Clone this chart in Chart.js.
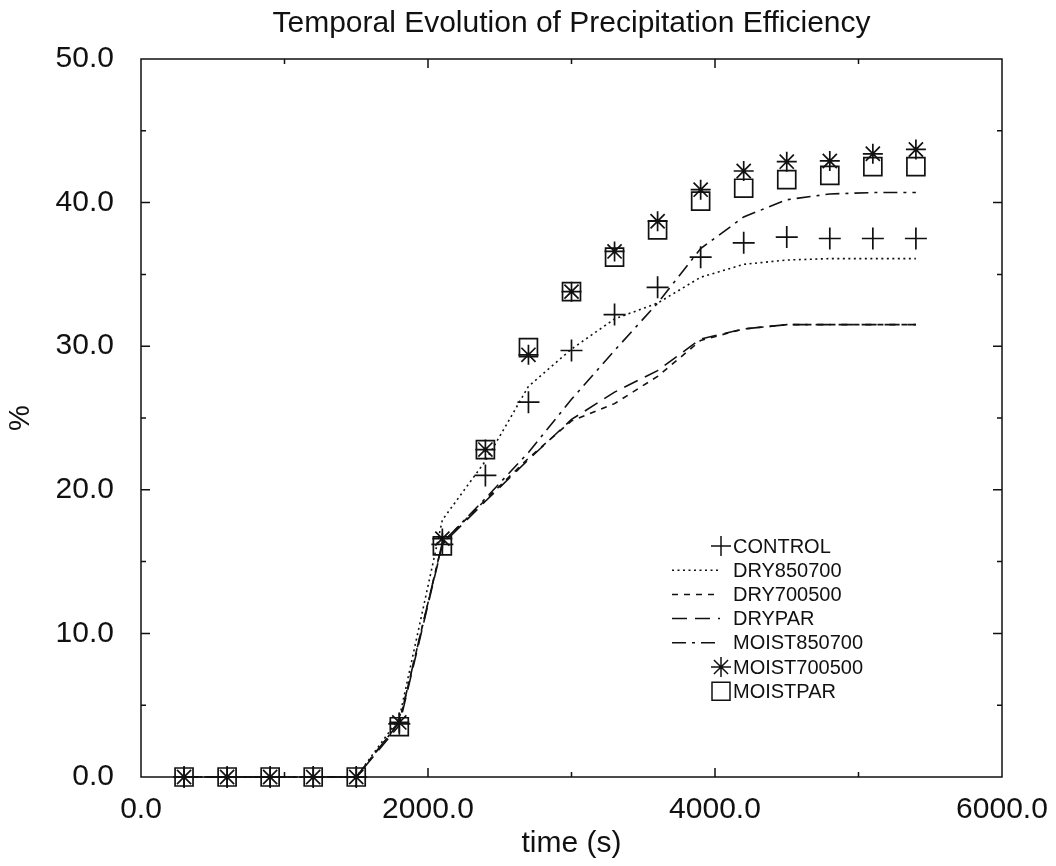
<!DOCTYPE html>
<html>
<head>
<meta charset="utf-8">
<script src="https://cdn.jsdelivr.net/npm/chart.js@4.4.1/dist/chart.umd.min.js"></script>
<style>
  html, body { margin: 0; padding: 0; background: #fff; }
  #wrap { width: 1056px; height: 866px; }
</style>
</head>
<body>
<div id="wrap"><canvas id="peChart" width="1056" height="866"></canvas></div>
<script>
// model output times (s)
const times = [300, 600, 900, 1200, 1500, 1800, 2100, 2400, 2700, 3000, 3300, 3600, 3900, 4200, 4500, 4800, 5100, 5400];

// precipitation efficiency (%) per run
const control     = [0, 0, 0, 0, 0, 3.7, 16.2, 21.0, 26.1, 29.7, 32.2, 34.1, 36.2, 37.2, 37.6, 37.5, 37.5, 37.5];
const dry850700   = [0, 0, 0, 0, 0, 4.1, 17.9, 22.0, 27.2, 29.8, 31.9, 33.0, 34.8, 35.7, 36.0, 36.1, 36.1, 36.1];
const dry700500   = [0, 0, 0, 0, 0, 3.8, 16.3, 19.3, 22.2, 24.8, 26.0, 27.9, 30.4, 31.2, 31.5, 31.5, 31.5, 31.5];
const dryPar      = [0, 0, 0, 0, 0, 3.6, 16.2, 19.2, 22.1, 24.9, 26.8, 28.3, 30.5, 31.2, 31.5, 31.5, 31.5, 31.5];
const moist850700 = [0, 0, 0, 0, 0, 3.8, 16.3, 19.4, 22.6, 26.3, 29.7, 33.0, 36.8, 39.0, 40.2, 40.6, 40.7, 40.7];
const moist700500 = [0, 0, 0, 0, 0, 3.8, 16.6, 22.8, 29.4, 33.8, 36.6, 38.7, 40.9, 42.2, 42.85, 42.9, 43.4, 43.7];
const moistPar    = [0, 0, 0, 0, 0, 3.5, 16.1, 22.8, 29.9, 33.8, 36.2, 38.1, 40.1, 41.0, 41.6, 41.9, 42.5, 42.5];

const xTicks = [0, 2000, 4000, 6000];
const yTicks = [0, 10, 20, 30, 40, 50];

const FONT = '"Liberation Sans", Arial, Helvetica, sans-serif';
const INK = '#111';

const pts = (vals) => times.map((t, i) => ({ x: t, y: vals[i] }));

function lineSet(label, vals, dash) {
  return {
    label, data: pts(vals), borderColor: INK, borderWidth: 1.6, borderDash: dash,
    pointRadius: 0, fill: false, tension: 0, clip: false
  };
}
function markSet(label, vals, style, r) {
  return {
    label, data: pts(vals), showLine: false, pointStyle: style, pointRadius: r,
    pointBorderColor: INK, pointBackgroundColor: 'rgba(0,0,0,0)', pointBorderWidth: 1.7, clip: false
  };
}

const datasets = [
  markSet('CONTROL', control, 'cross', 11),
  lineSet('DRY850700', dry850700, [2, 3.5]),
  lineSet('DRY700500', dry700500, [6, 6]),
  lineSet('DRYPAR', dryPar, [15, 8]),
  lineSet('MOIST850700', moist850700, [14, 6, 3, 6]),
  markSet('MOIST700500', moist700500, 'star', 10),
  markSet('MOISTPAR', moistPar, 'rect', 12.7)
];

// boxed frame with inward ticks on all four sides, title, legend
const frame = {
  id: 'frame',
  afterDraw(chart) {
    const { ctx, chartArea: a, scales: { x, y } } = chart;
    ctx.save();
    ctx.strokeStyle = INK;
    ctx.lineWidth = 1.5;
    ctx.setLineDash([]);
    ctx.strokeRect(a.left, a.top, a.right - a.left, a.bottom - a.top);

    for (let v = 1000; v < 6000; v += 1000) {
      const px = x.getPixelForValue(v);
      const len = v % 2000 === 0 ? 9 : 5;
      ctx.beginPath();
      ctx.moveTo(px, a.bottom); ctx.lineTo(px, a.bottom - len);
      ctx.moveTo(px, a.top); ctx.lineTo(px, a.top + len);
      ctx.stroke();
    }
    for (let v = 5; v < 50; v += 5) {
      const py = y.getPixelForValue(v);
      const len = v % 10 === 0 ? 9 : 5;
      ctx.beginPath();
      ctx.moveTo(a.left, py); ctx.lineTo(a.left + len, py);
      ctx.moveTo(a.right, py); ctx.lineTo(a.right - len, py);
      ctx.stroke();
    }

    // title
    ctx.fillStyle = INK;
    ctx.font = '30px ' + FONT;
    ctx.textAlign = 'center';
    ctx.textBaseline = 'middle';
    ctx.fillText('Temporal Evolution of Precipitation Efficiency', (a.left + a.right) / 2, 24);

    // legend
    const tx = a.left + 592, y0 = a.top + 487, step = 24.2;
    ctx.font = '20px ' + FONT;
    ctx.textAlign = 'left';
    chart.data.datasets.forEach((ds, i) => {
      const ry = y0 + i * step;
      ctx.lineWidth = 1.5;
      if (ds.showLine === false) {
        const cx = tx - 12;
        const r = ds.pointStyle === 'rect' ? 9 : 10;
        ctx.beginPath();
        if (ds.pointStyle === 'rect') {
          ctx.rect(cx - r, ry - r, 2 * r, 2 * r);
        } else {
          ctx.moveTo(cx - r, ry); ctx.lineTo(cx + r, ry);
          ctx.moveTo(cx, ry - r); ctx.lineTo(cx, ry + r);
          if (ds.pointStyle === 'star') {
            const d = r * Math.SQRT1_2;
            ctx.moveTo(cx - d, ry - d); ctx.lineTo(cx + d, ry + d);
            ctx.moveTo(cx - d, ry + d); ctx.lineTo(cx + d, ry - d);
          }
        }
        ctx.stroke();
      } else {
        ctx.setLineDash(ds.borderDash);
        ctx.beginPath();
        ctx.moveTo(tx - 61, ry); ctx.lineTo(tx - 13, ry);
        ctx.stroke();
        ctx.setLineDash([]);
      }
      ctx.fillText(ds.label, tx, ry + 1);
    });
    ctx.restore();
  }
};

new Chart(document.getElementById('peChart'), {
  type: 'line',
  data: { datasets },
  options: {
    responsive: false,
    animation: false,
    layout: { padding: { top: 59, right: 54, bottom: 0, left: 0 } },
    plugins: { legend: { display: false }, tooltip: { enabled: false } },
    scales: {
      x: {
        type: 'linear', min: 0, max: 6000,
        afterBuildTicks: (s) => { s.ticks = xTicks.map(v => ({ value: v })); },
        afterFit: (s) => { s.height = 89; },
        grid: { display: false }, border: { display: false },
        ticks: { color: INK, padding: 7, font: { family: FONT, size: 30 }, callback: (v) => Number(v).toFixed(1) },
        title: { display: true, text: 'time (s)', color: INK, font: { family: FONT, size: 30 }, padding: { bottom: 4 } }
      },
      y: {
        min: 0, max: 50,
        afterBuildTicks: (s) => { s.ticks = yTicks.map(v => ({ value: v })); },
        afterFit: (s) => { s.width = 141; },
        grid: { display: false }, border: { display: false },
        ticks: { color: INK, padding: 19, font: { family: FONT, size: 30 }, callback: (v) => Number(v).toFixed(1) },
        title: { display: true, text: '%', color: INK, font: { family: FONT, size: 29 }, padding: { top: 4 } }
      }
    }
  },
  plugins: [frame]
});
</script>
</body>
</html>
